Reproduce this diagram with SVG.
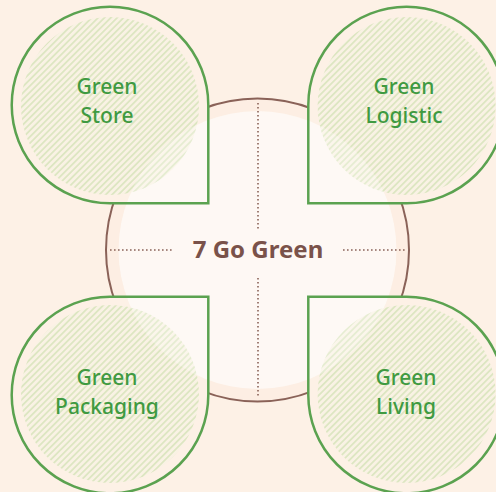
<svg xmlns="http://www.w3.org/2000/svg" width="496" height="492" viewBox="0 0 496 492">
<defs>
<pattern id="hatch" patternUnits="userSpaceOnUse" width="4.5" height="4.5" patternTransform="rotate(45)">
<rect width="4.5" height="4.5" fill="#f9f2e4"/>
<rect width="1.8" height="4.5" fill="#dde6c2"/>
</pattern>
<clipPath id="discclip"><circle cx="257.5" cy="250" r="139"/></clipPath>
<path id="tl" d="M110,6.7 A98.3,98.3 0 0 1 208.3,105 L208.3,203.3 L110,203.3 A98.3,98.3 0 0 1 110,6.7 Z"/>
<path id="tr" d="M406.6,6.7 A98.3,98.3 0 0 1 406.6,203.3 L308.3,203.3 L308.3,105 A98.3,98.3 0 0 1 406.6,6.7 Z"/>
<path id="bl" d="M110,296.7 L208.3,296.7 L208.3,395 A98.3,98.3 0 1 1 110,296.7 Z"/>
<path id="br" d="M308.3,296.7 L406.6,296.7 A98.3,98.3 0 1 1 308.3,395 Z"/>
<g id="hatches">
<circle cx="110" cy="106" r="89" fill="url(#hatch)"/>
<circle cx="406.6" cy="106" r="89" fill="url(#hatch)"/>
<circle cx="110" cy="394" r="89" fill="url(#hatch)"/>
<circle cx="406.6" cy="394" r="89" fill="url(#hatch)"/>
</g>
<style>
.fillbg{fill:#fdf1e6;stroke:none}
.tear{fill:none;stroke:#5ba250;stroke-width:2.5;stroke-linejoin:miter}
.lbl{font-family:"Noto Sans","DejaVu Sans",sans-serif;font-size:21px;fill:#3f9a41;text-anchor:middle;font-weight:500}
.dot{stroke:#8a6258;stroke-width:1.6;stroke-dasharray:1.6 2.4;fill:none}
</style>
</defs>
<rect width="496" height="492" fill="#fdf1e6"/>
<g id="hub">
<circle cx="257.5" cy="250" r="151.5" fill="#fdeee3" stroke="#8a6258" stroke-width="2"/>
</g>
<g id="node-fills">
<use href="#tl" class="fillbg"/>
<use href="#tr" class="fillbg"/>
<use href="#bl" class="fillbg"/>
<use href="#br" class="fillbg"/>
<use href="#hatches"/>
</g>
<circle id="hub-inner" cx="257.5" cy="250" r="139" fill="#ffffff" fill-opacity="0.6"/>
<g clip-path="url(#discclip)" opacity="0.55"><use href="#hatches"/></g>
<g id="store">
<use href="#tl" class="tear"/>
<text class="lbl" x="107" y="94">Green</text>
<text class="lbl" x="107" y="123">Store</text>
</g>
<g id="logistic">
<use href="#tr" class="tear"/>
<text class="lbl" x="404" y="94">Green</text>
<text class="lbl" x="404" y="123">Logistic</text>
</g>
<g id="packaging">
<use href="#bl" class="tear"/>
<text class="lbl" x="107" y="385">Green</text>
<text class="lbl" x="107" y="414">Packaging</text>
</g>
<g id="living">
<use href="#br" class="tear"/>
<text class="lbl" x="406" y="385">Green</text>
<text class="lbl" x="406" y="414">Living</text>
</g>
<g id="connectors">
<line class="dot" x1="258" y1="103" x2="258" y2="229"/>
<line class="dot" x1="258" y1="278" x2="258" y2="396"/>
<line class="dot" x1="110" y1="250" x2="173" y2="250"/>
<line class="dot" x1="343" y1="250" x2="406" y2="250"/>
</g>
<g id="center-label">
<text x="258" y="258" font-family="'Noto Sans','DejaVu Sans',sans-serif" font-size="24" font-weight="bold" fill="#7a524a" text-anchor="middle">7 Go Green</text>
</g>
</svg>
